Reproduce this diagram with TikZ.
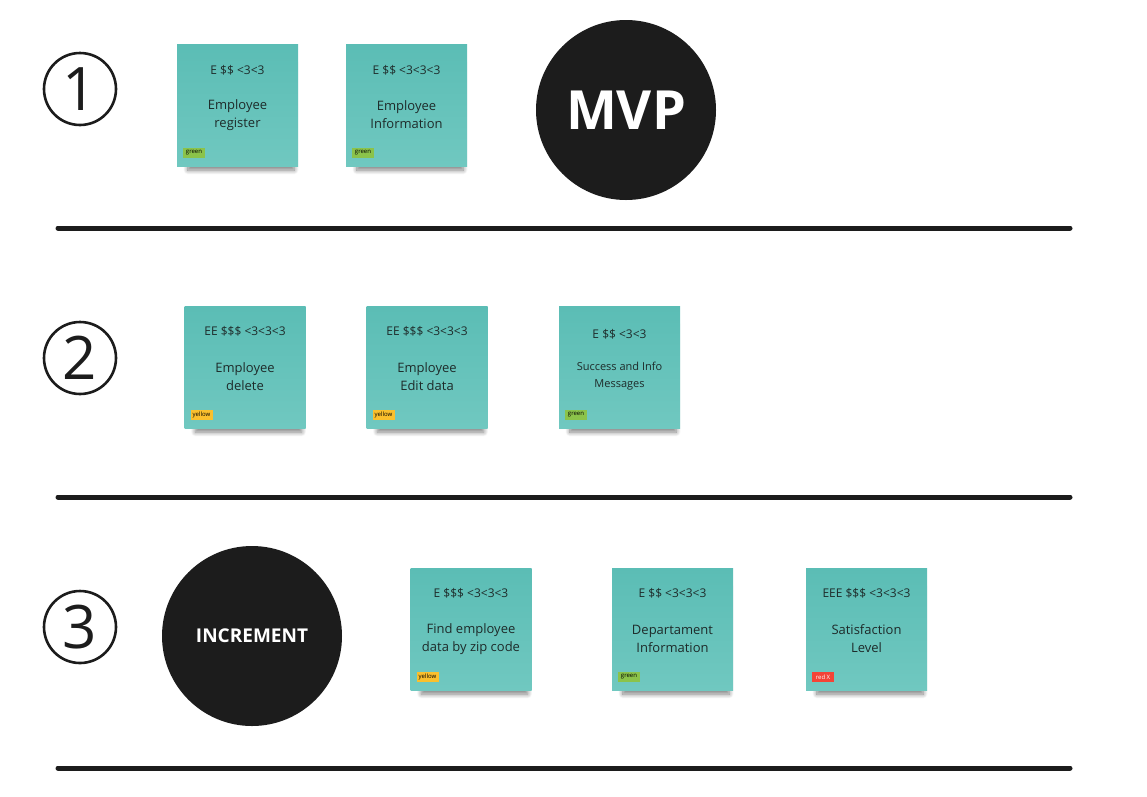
\documentclass[tikz,border=0pt]{standalone}
\usepackage{fontspec}
\setmainfont{Open Sans}
\usepackage{tikz}
\usetikzlibrary{shapes,arrows,positioning,calc,shadows.blur}
\definecolor{notetop}{HTML}{5BBDB5}
\definecolor{notebot}{HTML}{70C8C0}
\definecolor{inkdark}{HTML}{1C1C1C}
\definecolor{notetext}{HTML}{1E2B2A}
\definecolor{taggreen}{HTML}{8BC34A}
\definecolor{tagyellow}{HTML}{FBC02D}
\definecolor{tagred}{HTML}{F44336}
\tikzset{
note/.style = {rectangle, minimum width=121pt, minimum height=122pt, inner sep=0pt, top color=notetop, bottom color=notebot, draw=none,
  blur shadow={shadow xshift=4pt, shadow yshift=-13pt, shadow scale=0.88, shadow opacity=50, shadow blur radius=5pt, shadow blur steps=12}},
cost/.style = {font=\fontsize{12}{14}\selectfont, text=notetext, inner sep=0pt},
title/.style = {font=\fontsize{13}{18}\selectfont, text=notetext, align=center, inner sep=0pt},
tag/.style = {rectangle, fill=#1, minimum width=22pt, minimum height=10pt, inner sep=1pt, font=\fontsize{6}{6}\selectfont, anchor=south west},
bigdot/.style = {circle, fill=inkdark, minimum size=180pt, inner sep=0pt, text=white, font=\bfseries},
step number/.style = {circle, draw=inkdark, line width=2.6pt, minimum size=72pt, inner sep=0pt, font=\fontsize{60}{60}\selectfont, text=inkdark},
divider/.style = {draw=inkdark, line width=5pt, line cap=round}
}
\begin{document}
\begin{tikzpicture}[x=1pt, y=-1pt, auto, node distance=2cm, >=latex']
\useasboundingbox (0,0) rectangle (1147,796);

% step numbers
\node [step number] (s1) at (80,89) {1};
\node [step number] (s2) at (80,358) {2};
\node [step number] (s3) at (80,627) {3};

% dividers
\coordinate (l1a) at (58,228); \coordinate (l1b) at (1070,228);
\coordinate (l2a) at (58,497); \coordinate (l2b) at (1070,497);
\coordinate (l3a) at (58,768); \coordinate (l3b) at (1070,768);
\draw [divider] (l1a) -- (l1b);
\draw [divider] (l2a) -- (l2b);
\draw [divider] (l3a) -- (l3b);

% row 1
\node [note] (reg) at (237.5,105) {};
\node [cost] (reg cost) at ([yshift=-26pt]reg.north) {E \$\$ <3<3};
\node [title] (reg title) at ([yshift=-71pt]reg.north) {Employee\\register};
\node [tag=taggreen] (reg tag) at ([shift={(6pt,8pt)}]reg.south west) {green};

\node [note] (info) at (406.5,105) {};
\node [cost] (info cost) at ([yshift=-26pt]info.north) {E \$\$ <3<3<3};
\node [title] (info title) at ([yshift=-71pt]info.north) {Employee\\Information};
\node [tag=taggreen] (info tag) at ([shift={(6pt,8pt)}]info.south west) {green};

\node [bigdot, font=\fontsize{54}{54}\selectfont\bfseries] (mvp) at (626,110) {MVP};

% row 2
\node [note] (del) at (245,367) {};
\node [cost] (del cost) at ([yshift=-25pt]del.north) {EE \$\$\$ <3<3<3};
\node [title] (del title) at ([yshift=-71pt]del.north) {Employee\\delete};
\node [tag=tagyellow] (del tag) at ([shift={(6pt,8pt)}]del.south west) {yellow};

\node [note] (edit) at (427,367) {};
\node [cost] (edit cost) at ([yshift=-25pt]edit.north) {EE \$\$\$ <3<3<3};
\node [title] (edit title) at ([yshift=-71pt]edit.north) {Employee\\Edit data};
\node [tag=tagyellow] (edit tag) at ([shift={(6pt,8pt)}]edit.south west) {yellow};

\node [note] (msg) at (619.5,367) {};
\node [cost] (msg cost) at ([yshift=-28pt]msg.north) {E \$\$ <3<3};
\node [title, font=\fontsize{11}{17}\selectfont] (msg title) at ([yshift=-70pt]msg.north) {Success and Info\\Messages};
\node [tag=taggreen] (msg tag) at ([shift={(6pt,8pt)}]msg.south west) {green};

% row 3
\node [bigdot, font=\fontsize{19}{19}\selectfont\bfseries] (incr) at (252,636) {INCREMENT};

\node [note] (zip) at (471,629) {};
\node [cost] (zip cost) at ([yshift=-25pt]zip.north) {E \$\$\$ <3<3<3};
\node [title] (zip title) at ([yshift=-71pt]zip.north) {Find employee\\data by zip code};
\node [tag=tagyellow] (zip tag) at ([shift={(6pt,8pt)}]zip.south west) {yellow};

\node [note] (dept) at (672.5,629) {};
\node [cost] (dept cost) at ([yshift=-25pt]dept.north) {E \$\$ <3<3<3};
\node [title] (dept title) at ([yshift=-71pt]dept.north) {Departament\\Information};
\node [tag=taggreen] (dept tag) at ([shift={(6pt,8pt)}]dept.south west) {green};

\node [note] (sat) at (866.5,629) {};
\node [cost] (sat cost) at ([yshift=-25pt]sat.north) {EEE \$\$\$ <3<3<3};
\node [title] (sat title) at ([yshift=-71pt]sat.north) {Satisfaction\\Level};
\node [tag=tagred, text=white] (sat tag) at ([shift={(6pt,8pt)}]sat.south west) {red X};
\end{tikzpicture}
\end{document}
